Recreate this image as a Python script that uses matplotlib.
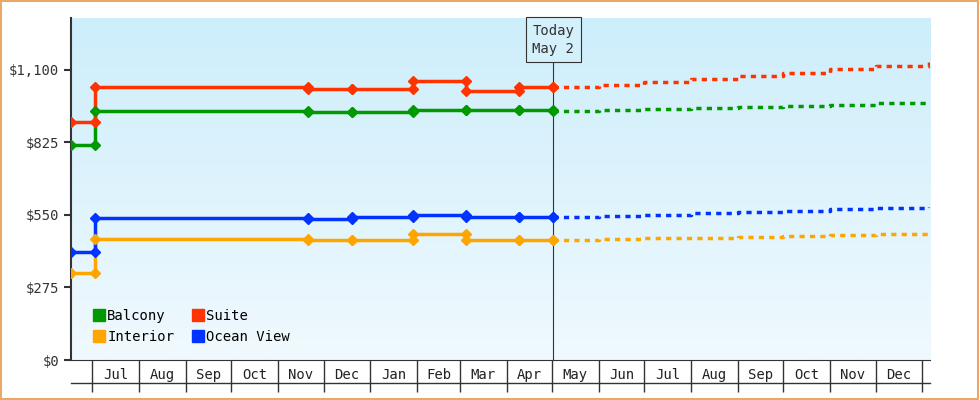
import matplotlib

matplotlib.use("Agg")
import matplotlib.pyplot as plt
import matplotlib.dates as mdates
import numpy as np
import pandas as pd

# ---------------------------------------------------------------- datos
fechas = pd.to_datetime(["2024-06-17", "2024-07-03", "2024-11-21", "2024-12-20",
                         "2025-01-29", "2025-03-05", "2025-04-09", "2025-05-02"])
balcony = [814, 945, 942, 942, 947, 947, 947, 945]
suite = [902, 1034, 1027, 1027, 1058, 1022, 1034, 1034]
interior = [330, 458, 455, 455, 478, 455, 455, 455]
ocean_view = [410, 537, 534, 541, 550, 541, 541, 541]

fechas_prev = pd.to_datetime(["2025-05-02", "2025-06-01", "2025-07-01", "2025-08-01",
                              "2025-09-01", "2025-10-01", "2025-11-01", "2025-12-01",
                              "2026-01-05"])
balcony_prev = [945, 948, 952, 956, 960, 964, 968, 973, 979]
suite_prev = [1034, 1044, 1055, 1066, 1078, 1090, 1102, 1115, 1130]
interior_prev = [455, 458, 461, 464, 467, 471, 475, 478, 482]
ocean_view_prev = [541, 546, 551, 556, 561, 566, 571, 575, 580]

series = [("Balcony", balcony, balcony_prev, "#009900"),
          ("Interior", interior, interior_prev, "#ffa500"),
          ("Suite", suite, suite_prev, "#ff3300"),
          ("Ocean View", ocean_view, ocean_view_prev, "#0033ff")]

hoy = pd.Timestamp("2025-05-02")
meses = pd.date_range("2024-07-01", "2026-01-01", freq="MS")
etiquetas = [m.strftime("%b") for m in meses[:-1]]

# ---------------------------------------------------------------- figura
plt.rcParams["font.family"] = "DejaVu Sans Mono"
fig = plt.figure(figsize=(9.8, 4), dpi=100)
fig.patches.append(plt.Rectangle((0.001, 0.002), 0.997, 0.995, transform=fig.transFigure,
                                 fill=False, edgecolor="#e8a868", linewidth=1.5))
ax = fig.add_axes([0.0724, 0.1, 0.8766, 0.855])
x0, x1 = pd.Timestamp("2024-06-17"), pd.Timestamp("2026-01-06")
ax.set_xlim(x0, x1)
ax.set_ylim(0, 1297)

# degradado de fondo
grad = np.linspace(0, 1, 256).reshape(-1, 1)
cmap = matplotlib.colors.LinearSegmentedColormap.from_list("bg", ["#f0f9fe", "#cdeefb"])
ax.imshow(grad, aspect="auto", cmap=cmap, origin="lower",
          extent=[mdates.date2num(x0), mdates.date2num(x1), 0, 1297], zorder=0)

for nombre, vals, prev, color in series:
    ax.step(fechas, vals, where="post", color=color, lw=2.5, zorder=3)
    # marcadores en valor anterior y nuevo de cada cambio
    mx, my = [fechas[0]], [vals[0]]
    for i in range(1, len(fechas)):
        mx += [fechas[i], fechas[i]]
        my += [vals[i - 1], vals[i]]
    ax.plot(mx, my, "D", color=color, ms=5, zorder=4)
    ax.step(fechas_prev, prev, where="post", color=color, lw=2.5,
            linestyle=(0, (1.5, 1.5)), zorder=3)
    ax.plot([], [], "s", color=color, ms=9, label=nombre)

# línea de hoy
ax.axvline(hoy, ymax=1214 / 1297 - 0.02, color="#333333", lw=0.8, zorder=2)
ax.text(hoy, 1214, "Today\nMay 2", ha="center", va="center", fontsize=10, color="#333333",
        linespacing=1.4,
        bbox=dict(boxstyle="square,pad=0.45", fc="#d4f0fb", ec="#333333", lw=0.8))

# ejes
ax.set_yticks([0, 275, 550, 825, 1100])
ax.set_yticklabels(["$0", "$275", "$550", "$825", "$1,100"])
ax.tick_params(axis="y", labelsize=10, colors="#333333", length=5, width=1.5)
ax.set_xticks(meses)
ax.set_xticklabels([])
ax.tick_params(axis="x", which="major", length=23, width=1, colors="#333333")
medios = [m + (meses[i + 1] - m) / 2 for i, m in enumerate(meses[:-1])]
ax.set_xticks(medios, minor=True)
ax.set_xticklabels(etiquetas, minor=True)
ax.tick_params(axis="x", which="minor", length=0, labelsize=10, pad=6, colors="#222222")
ax.plot([0, 1], [-23 / 342, -23 / 342], transform=ax.transAxes, color="#333333",
        lw=1, clip_on=False)
for lado in ["top", "right"]:
    ax.spines[lado].set_visible(False)
ax.spines["left"].set_linewidth(1.5)
ax.spines["left"].set_color("#333333")
ax.spines["bottom"].set_color("#333333")

ax.legend(loc="lower left", ncol=2, frameon=False, fontsize=10, handletextpad=0.1,
          columnspacing=1.2, labelspacing=0.5, handlelength=1, bbox_to_anchor=(0.01, 0.01))

fig.savefig("out.png", dpi=100)
